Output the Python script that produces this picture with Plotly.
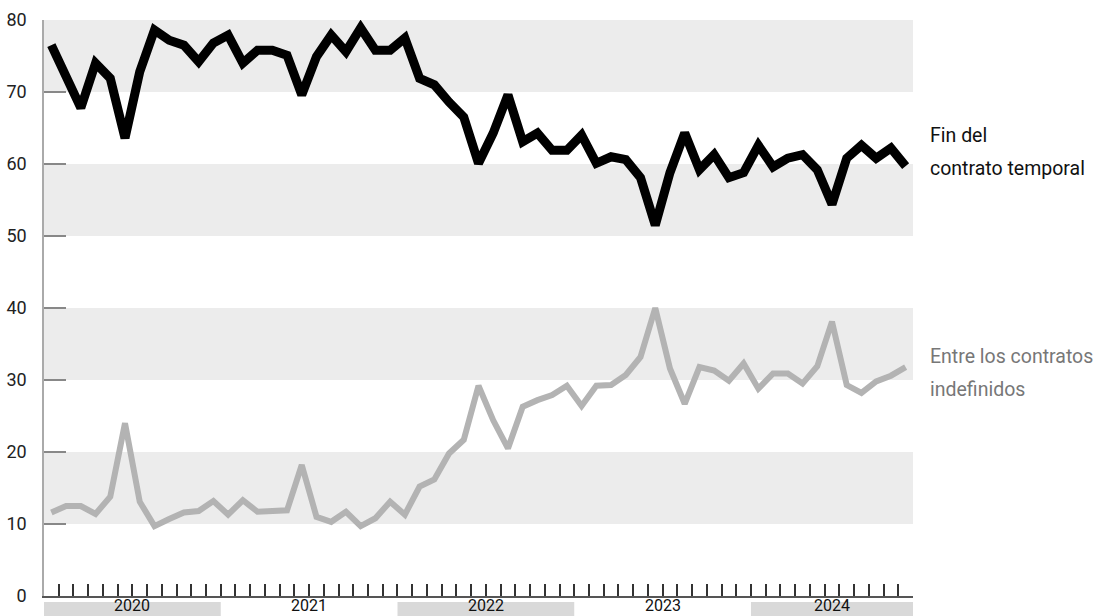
import plotly.graph_objects as go

# ---- data ----
years = ["2020", "2021", "2022", "2023", "2024"]
months_per_year = [12, 12, 12, 12, 11]

fin_contrato_temporal = [
    76.5, 72.3, 67.8, 74.0, 71.9, 63.6, 72.8, 78.6, 77.2, 76.5, 74.2, 76.8,
    77.9, 74.0, 75.8, 75.8, 75.1, 69.6, 74.9, 77.9, 75.6, 78.9, 75.8, 75.8,
    77.5, 71.9, 71.0, 68.6, 66.5, 60.1, 64.3, 69.6, 63.1, 64.3, 61.9, 61.9,
    64.0, 60.1, 61.0, 60.6, 58.1, 51.5, 58.8, 64.3, 59.2, 61.3, 58.1, 58.8,
    62.6, 59.6, 60.8, 61.3, 59.2, 54.4, 60.8, 62.6, 60.8, 62.2, 59.7,
]
entre_contratos_indefinidos = [
    11.6, 12.5, 12.5, 11.4, 13.8, 24.0, 13.1, 9.7, 10.7, 11.6, 11.8, 13.2,
    11.3, 13.3, 11.7, 11.8, 11.9, 18.2, 11.0, 10.3, 11.7, 9.7, 10.8, 13.1,
    11.3, 15.2, 16.2, 19.8, 21.7, 29.2, 24.4, 20.5, 26.3, 27.2, 27.9, 29.2,
    26.4, 29.2, 29.3, 30.7, 33.2, 40.0, 31.6, 26.7, 31.8, 31.3, 29.9, 32.3,
    28.8, 30.9, 30.9, 29.5, 31.9, 38.1, 29.3, 28.2, 29.8, 30.6, 31.8,
]
y_ticks = [0, 10, 20, 30, 40, 50, 60, 70, 80]
shaded_y_bands = [(10, 20), (30, 40), (50, 60), (70, 80)]
shaded_years = ["2020", "2022", "2024"]
label_fin_lines = ["Fin del", "contrato temporal"]
label_entre_lines = ["Entre los contratos", "indefinidos"]

FONT = "Roboto, Liberation Sans, sans-serif"

n = len(fin_contrato_temporal)
x = list(range(n))

fig = go.Figure()
fig.add_trace(go.Scatter(
    x=x, y=entre_contratos_indefinidos, mode="lines",
    line=dict(color="#b3b3b3", width=6), hoverinfo="skip", showlegend=False,
))
fig.add_trace(go.Scatter(
    x=x, y=fin_contrato_temporal, mode="lines",
    line=dict(color="#000000", width=9), hoverinfo="skip", showlegend=False,
))

shapes = []
for lo, hi in shaded_y_bands:
    shapes.append(dict(type="rect", xref="paper", yref="y", x0=0, x1=1, y0=lo, y1=hi,
                       fillcolor="#ececec", line=dict(width=0), layer="below"))

annotations = []
start = 0
for yr, m in zip(years, months_per_year):
    x0, x1 = start - 0.5, start + m - 0.5
    if yr in shaded_years:
        shapes.append(dict(type="rect", xref="x", yref="paper", x0=x0, x1=x1,
                           y0=-0.0105, y1=-0.08, fillcolor="#d9d9d9",
                           line=dict(width=0), layer="below"))
    annotations.append(dict(xref="x", yref="paper", x=(x0 + x1) / 2, y=-0.0347,
                            yanchor="bottom", xanchor="center", text=yr, showarrow=False,
                            borderpad=0, font=dict(family=FONT, size=16, color="#111")))
    start += m


def add_label(lines, y_first, color):
    # y offsets in pixels for each line of a right-side label
    for i, line in enumerate(lines):
        annotations.append(dict(xref="paper", yref="y", x=1, y=y_first, xanchor="left",
                                yanchor="middle", xshift=15, yshift=-33 * i, align="left",
                                text=line, showarrow=False,
                                font=dict(family=FONT, size=19.5, color=color)))


add_label(label_fin_lines, 63.9, "#111")
add_label(label_entre_lines, 33.3, "#777777")

fig.update_layout(
    width=1102, height=616,
    margin=dict(l=44, r=189, t=20, b=20, autoexpand=False),
    plot_bgcolor="white", paper_bgcolor="white",
    shapes=shapes, annotations=annotations,
    xaxis=dict(range=[-0.5, n - 0.5], tickvals=[i - 0.5 for i in range(n + 1)],
               ticks="inside", ticklen=12, tickwidth=1.5, tickcolor="#333",
               showticklabels=False, showline=True, linecolor="#555", linewidth=2,
               showgrid=False, zeroline=False, fixedrange=True, automargin=False),
    yaxis=dict(range=[0, 80], tickvals=y_ticks, ticks="inside", ticklen=22, tickwidth=2,
               tickcolor="#888", showline=True, linecolor="#aaa", linewidth=1.5,
               showgrid=False, zeroline=False, ticklabelstandoff=12, automargin=False,
               tickfont=dict(family=FONT, size=18, color="#222"), fixedrange=True),
)

fig.write_html(
    "out.html",
    config={"displayModeBar": False},
    post_script="document.body.style.margin='0';document.body.style.overflow='hidden';",
)
